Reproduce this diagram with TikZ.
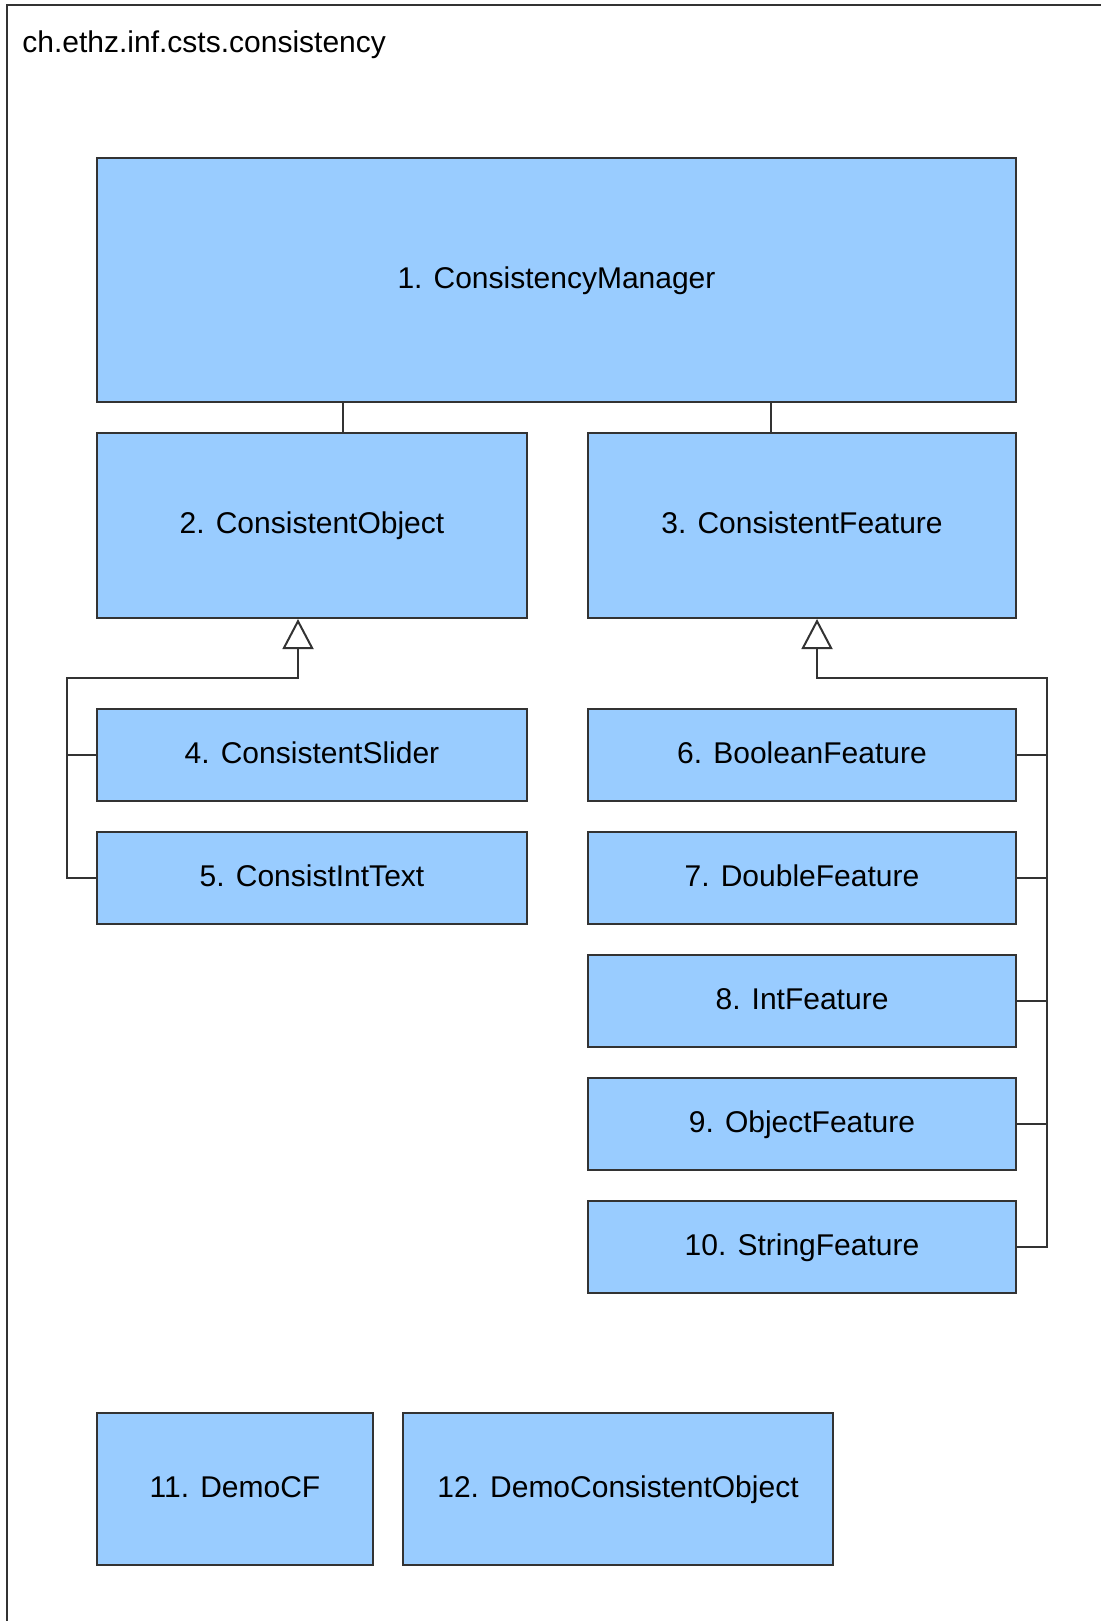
\documentclass[tikz,border=0pt]{standalone}
\usepackage{fontspec}
\setmainfont{Liberation Sans}
\usetikzlibrary{arrows.meta, positioning}
\usepackage{xcolor}
\definecolor{classBlue}{RGB}{153,204,255}
\definecolor{lineGray}{RGB}{51,51,51}

\begin{document}
\begin{tikzpicture}[
    x=0.5pt, y=-0.5pt,
    node distance=14.5pt and 14pt,
    class/.style={rectangle, draw=lineGray, line width=1pt, fill=classBlue, minimum width=215pt, minimum height=46pt, inner sep=0pt, text height=11pt, text depth=3pt, font=\fontsize{15}{18}\selectfont},
    link/.style={draw=lineGray, line width=1pt},
    inherit/.style={link, -{Triangle[open, length=15pt, width=15.5pt]}}
]
\useasboundingbox (0,0) rectangle (1101,1621);

% Package frame
\draw[link] (7,1621) -- (7,5.5) -- (1101,5.5);
\node[anchor=base west, inner sep=0pt, font=\fontsize{15}{18}\selectfont] (pkg) at (22,53) {ch.ethz.inf.csts.consistency};

\node[class, minimum width=459.5pt, minimum height=122pt] (manager) at (556.5,280) {1. ConsistencyManager};
\node[class, minimum height=92.5pt] (object) at (312,525.5) {2. ConsistentObject};
\node[class, minimum width=214pt, minimum height=92.5pt] (feature) at (802,525.5) {3. ConsistentFeature};

\node[class] (slider) at (312,755) {4. ConsistentSlider};
\node[class, below=of slider] (inttext) {5. ConsistIntText};

\node[class, minimum width=214pt] (boolf) at (802,755) {6. BooleanFeature};
\node[class, minimum width=214pt, below=of boolf] (doublef) {7. DoubleFeature};
\node[class, minimum width=214pt, below=of doublef] (intf) {8. IntFeature};
\node[class, minimum width=214pt, below=of intf] (objectf) {9. ObjectFeature};
\node[class, minimum width=214pt, below=of objectf] (stringf) {10. StringFeature};

\node[class, minimum width=138pt, minimum height=76pt] (democf) at (235,1489) {11. DemoCF};
\node[class, minimum height=76pt, right=of democf] (demoobj) {12. DemoConsistentObject};

\draw[link] ([xshift=15.5pt]object.north) -- ([xshift=15.5pt]object.north |- manager.south);
\draw[link] ([xshift=-15.5pt]feature.north) -- ([xshift=-15.5pt]feature.north |- manager.south);

% Inheritance
\coordinate (lbus) at (67,678);
\coordinate (rbus) at (1047,678);
\draw[inherit] (slider.west) -| (lbus) -| ([xshift=-7pt]object.south);
\draw[link] (inttext.west) -| (lbus);
\draw[inherit] (boolf.east) -| (rbus) -| ([xshift=7.5pt]feature.south);
\draw[link] (doublef.east) -| (rbus);
\draw[link] (intf.east) -| (rbus);
\draw[link] (objectf.east) -| (rbus);
\draw[link] (stringf.east) -| (rbus);

\end{tikzpicture}
\end{document}
